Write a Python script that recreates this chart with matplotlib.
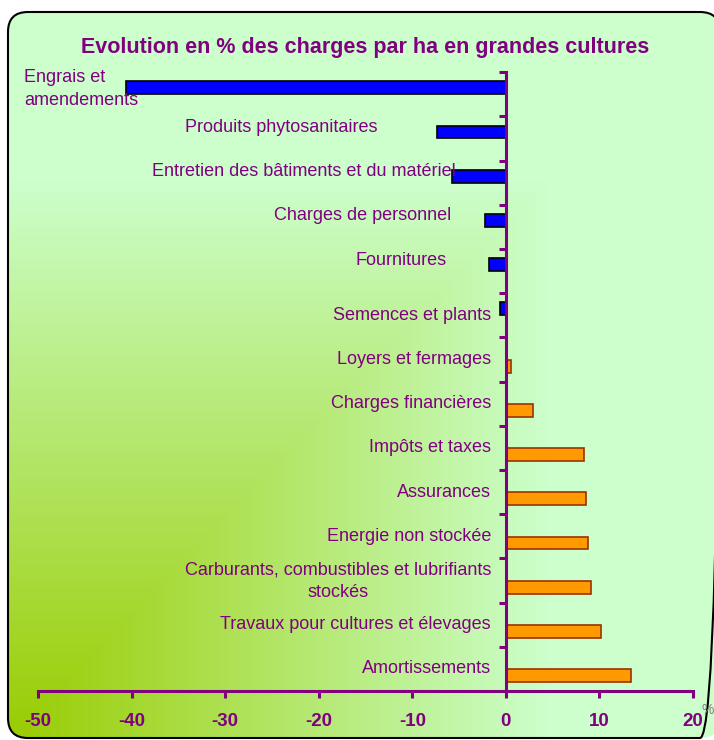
import numpy as np
import matplotlib

matplotlib.use("agg")
import matplotlib.pyplot as plt
from matplotlib.patches import FancyBboxPatch

# data (top to bottom)
categories = [
    "Engrais et\namendements",
    "Produits phytosanitaires",
    "Entretien des bâtiments et du matériel",
    "Charges de personnel",
    "Fournitures",
    "Semences et plants",
    "Loyers et fermages",
    "Charges financières",
    "Impôts et taxes",
    "Assurances",
    "Energie non stockée",
    "Carburants, combustibles et lubrifiants\nstockés",
    "Travaux pour cultures et élevages",
    "Amortissements",
]
values = [-40.6, -7.4, -5.8, -2.2, -1.8, -0.6, 0.5, 2.9, 8.3, 8.6, 8.8, 9.1, 10.2, 13.4]
xticks = [-50, -40, -30, -20, -10, 0, 10, 20]

# label placement (data units), as in the original layout
label_x = [-51.5, -13.7, -5.35, -5.8, -6.3, -1.6, -1.6, -1.6, -1.6, -1.6, -1.5, -17.9, -1.6, -1.6]
label_dy = [-0.12, -0.24, -0.245, -0.27, -0.25, 0, 0, 0, 0, 0, 0, 0.01, 0, 0]
label_ha = ["left", "right", "right", "right", "right", "right", "right", "right",
            "right", "right", "right", "center", "right", "right"]

purple = "#800080"
plt.rcParams["font.family"] = ["Liberation Sans", "DejaVu Sans"]
plt.rcParams["axes.unicode_minus"] = False

W, H = 714, 740
fig = plt.figure(figsize=(W / 100, H / 100), dpi=100)

# "from corner" gradient background in a rounded frame
bg = fig.add_axes([0, 0, 1, 1])
bg.set_axis_off()
yy, xx = np.mgrid[0:H, 0:W]
t = np.maximum((xx - 8) / 540.0, (H - yy) / 560.0).clip(0, 1)
c0 = np.array([0x99, 0xCC, 0x00]) / 255.0
c1 = np.array([0xCC, 0xFF, 0xCC]) / 255.0
img = c0 + t[..., None] * (c1 - c0)
im = bg.imshow(img, extent=(0, W, H, 0), aspect="auto", interpolation="bilinear")
bg.set_xlim(0, W)
bg.set_ylim(H, 0)
box = FancyBboxPatch((8, 12), 712, 726, boxstyle="round,pad=0,rounding_size=20",
                     fc="none", ec="black", lw=1.5)
bg.add_patch(box)
im.set_clip_path(box)

ax = fig.add_axes([38 / W, 1 - 691 / H, (693 - 38) / W, (691 - 72.3) / H])
ax.patch.set_alpha(0)

vals = np.array(values)
y = np.arange(len(categories))
neg = vals < 0
ax.barh(y[neg] - 0.15, vals[neg], height=0.29, color="#0000FF",
        edgecolor="black", linewidth=1.2)
ax.barh(y[~neg] + 0.15, vals[~neg], height=0.29, color="#FF9900",
        edgecolor="#993300", linewidth=1.2)

for i, lab in enumerate(categories):
    ax.text(label_x[i], i + label_dy[i], lab, ha=label_ha[i], va="center",
            multialignment=label_ha[i],
            color=purple, fontsize=13, linespacing=1.5 if i == 0 else 1.4)

ax.set_xlim(-50, 20)
ax.set_ylim(len(categories) - 0.5, -0.5)
for s in ["top", "right"]:
    ax.spines[s].set_visible(False)
for s in ["left", "bottom"]:
    ax.spines[s].set_color(purple)
    ax.spines[s].set_linewidth(2.2)
ax.spines["left"].set_position(("data", 0))

ax.set_yticks(np.arange(-0.5, len(categories), 1))
ax.set_yticklabels([])
ax.tick_params(axis="y", direction="out", length=5, width=2.2, color=purple)
ax.set_xticks(xticks)
ax.set_xticklabels([str(v) for v in xticks], fontweight="bold")
ax.tick_params(axis="x", direction="out", length=5, width=2.2, color=purple,
               labelcolor=purple, labelsize=13.5, pad=11)

fig.text(365.5 / W, 1 - 47 / H, "Evolution en % des charges par ha en grandes cultures",
         ha="center", va="center", color=purple, fontsize=15.5, fontweight="bold")
fig.text(702 / W, 1 - 710 / H, "%", ha="left", va="center", color="gray", fontsize=10)

fig.savefig("out.png", dpi=100)
